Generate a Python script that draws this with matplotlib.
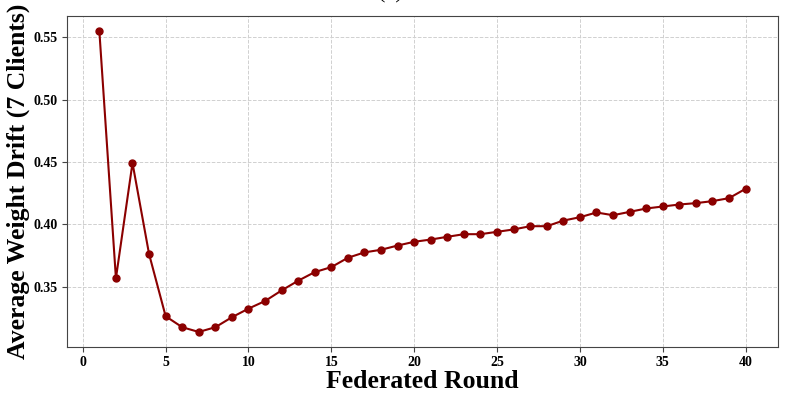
import matplotlib
matplotlib.use("Agg")
import matplotlib.pyplot as plt

# Data
rounds = list(range(1, 41))
drift = [0.555, 0.3567, 0.4492, 0.3762, 0.3263, 0.3175, 0.3137, 0.3175, 0.3255, 0.3324,
         0.3385, 0.3470, 0.3548, 0.3617, 0.3657, 0.3732, 0.3775, 0.3796, 0.3830, 0.3860,
         0.3878, 0.3900, 0.3921, 0.3921, 0.3940, 0.3959, 0.3985, 0.3985, 0.4030, 0.4057,
         0.4095, 0.4073, 0.4100, 0.4127, 0.4143, 0.4159, 0.4170, 0.4186, 0.4210, 0.4285]

plt.rcParams["font.family"] = ["Liberation Serif", "DejaVu Serif"]

fig = plt.figure(figsize=(7.85, 3.94), dpi=100)
ax = fig.add_axes([0.0854, 0.1193, 0.9056, 0.8401])

ax.plot(rounds, drift, color="#8B0000", marker="o", markersize=5, linewidth=1.5)

ax.set_xlabel("Federated Round", fontsize=18.5, fontweight="bold", labelpad=1)
ax.set_ylabel("Average Weight Drift (7 Clients)", fontsize=18.5, fontweight="bold", labelpad=2.5)
ax.grid(True, linestyle="--", color="#d0d0d0", linewidth=0.7)

for lab in ax.get_xticklabels() + ax.get_yticklabels():
    lab.set_fontweight("bold")
ax.tick_params(labelsize=10, color="#444444", pad=3)
for sp in ax.spines.values():
    sp.set_color("#444444")

# title sits mostly above the visible area, as in the reference
fig.text(390 / 785, 1 + 2 / 394, "(a)", fontsize=16, ha="center", va="baseline")

fig.savefig("out.png", dpi=100)
